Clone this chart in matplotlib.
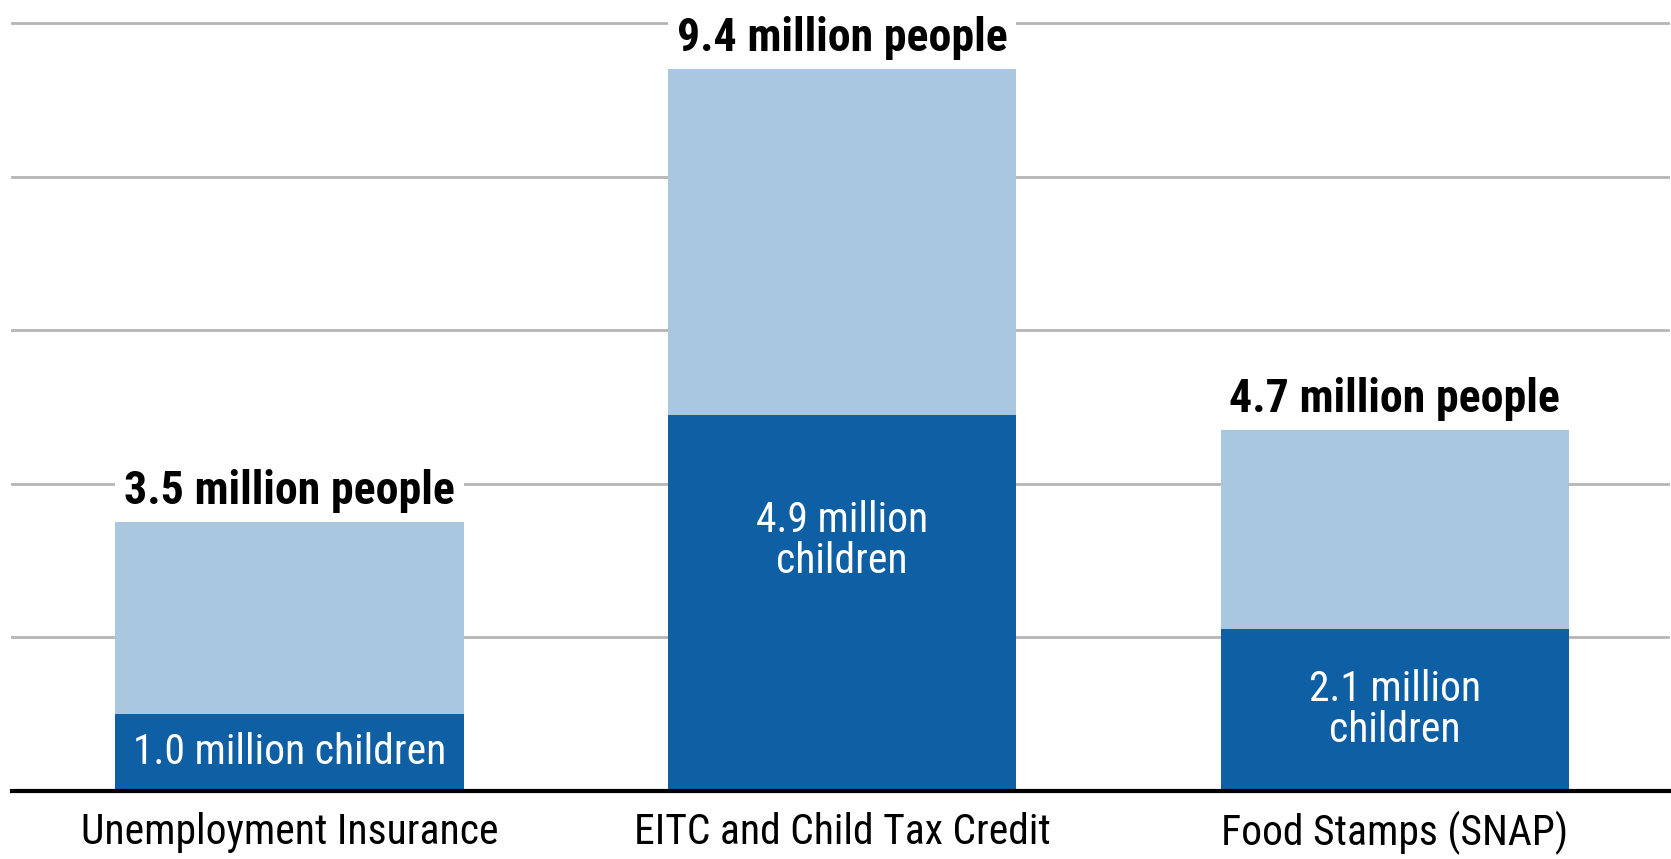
import matplotlib
matplotlib.use("Agg")
import matplotlib.pyplot as plt
from matplotlib import font_manager

# Program reach, in millions
programs = ["Unemployment Insurance", "EITC and Child Tax Credit", "Food Stamps (SNAP)"]
total_people = [3.5, 9.4, 4.7]
children = [1.0, 4.9, 2.1]
people_labels = ["3.5 million people", "9.4 million people", "4.7 million people"]
child_labels = ["1.0 million children", "4.9 million\nchildren", "2.1 million\nchildren"]
grid_values = [2, 4, 6, 8, 10]

LIGHT = "#a9c8e0"
DARK = "#0f5fa5"


def pick_family():
    installed = {f.name for f in font_manager.fontManager.ttflist}
    for name in ["Roboto Condensed", "Liberation Sans Narrow", "DejaVu Sans Condensed",
                 "Open Sans Condensed", "Liberation Sans"]:
        if name in installed:
            return name
    return "DejaVu Sans"


family = pick_family()
plt.rcParams["font.family"] = family

fig = plt.figure(figsize=(16.71, 8.59), dpi=100)
ax = fig.add_axes([0, 0, 1, 1])
ax.set_xlim(-0.524, 2.5)
ax.set_ylim(-0.893, 10.306)
ax.axis("off")

x = list(range(len(programs)))
width = 0.63

for g in grid_values:
    ax.axhline(g, xmin=0.007, xmax=0.998, color="#b5b5b5", lw=2, zorder=1)
ax.axhline(0, xmin=0.007, xmax=1.0, color="black", lw=3, zorder=4)

ax.bar(x, total_people, width=width, color=LIGHT, zorder=2)
ax.bar(x, children, width=width, color=DARK, zorder=3)
# white band behind each total label so the gridlines break around it
ax.bar(x, [1.0] * len(x), bottom=total_people, width=width, color="white", zorder=2)

for xi, tot, lab in zip(x, total_people, people_labels):
    ax.annotate(lab, (xi, tot), xytext=(0, 13), textcoords="offset points",
                ha="center", va="baseline", fontsize=33, fontweight="bold",
                color="black", zorder=5)

child_y = [children[0] / 2, 3.25, children[2] / 2]
for xi, cy, lab in zip(x, child_y, child_labels):
    ax.text(xi, cy, lab, ha="center", va="center", fontsize=30, color="white",
            linespacing=1.0, zorder=5)

for xi, name in zip(x, programs):
    ax.text(xi, -0.55, name, ha="center", va="center", fontsize=30, color="black")

fig.savefig("out.png", dpi=100)
